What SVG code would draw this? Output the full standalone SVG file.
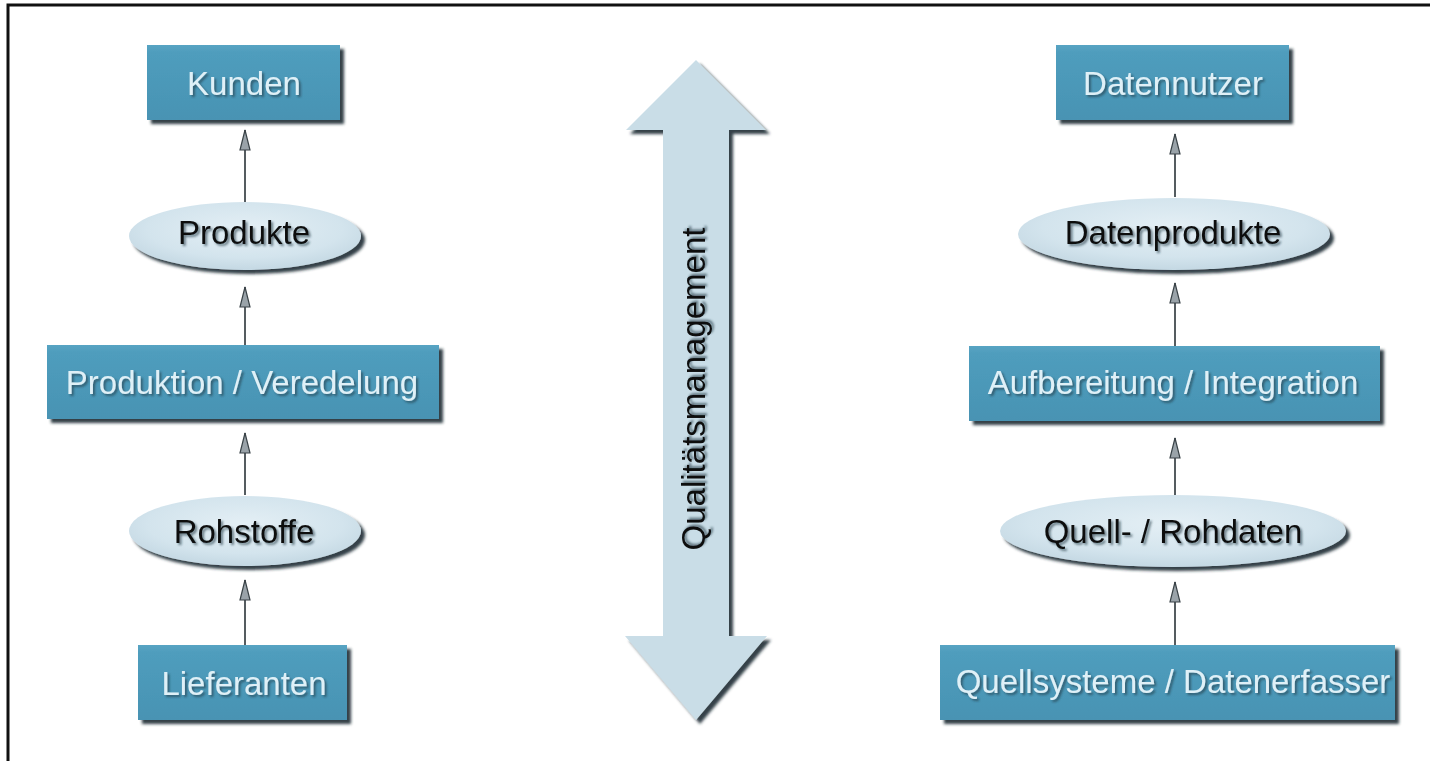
<svg xmlns="http://www.w3.org/2000/svg" width="1430" height="761" viewBox="0 0 1430 761">
<defs>
<filter id="sh" x="-10%" y="-20%" width="130%" height="150%">
<feGaussianBlur in="SourceAlpha" stdDeviation="1.6"/>
<feOffset dx="4" dy="4" result="b"/>
<feFlood flood-color="#1c2b33" flood-opacity="0.9"/>
<feComposite in2="b" operator="in" result="s"/>
<feMerge><feMergeNode in="s"/><feMergeNode in="SourceGraphic"/></feMerge>
</filter>
<filter id="tsh" x="-10%" y="-30%" width="120%" height="160%">
<feGaussianBlur in="SourceAlpha" stdDeviation="1.2"/>
<feOffset dx="1.5" dy="2" result="b"/>
<feFlood flood-color="#1f3540" flood-opacity="0.6"/>
<feComposite in2="b" operator="in" result="s"/>
<feMerge><feMergeNode in="s"/><feMergeNode in="SourceGraphic"/></feMerge>
</filter>
<linearGradient id="boxg" x1="0" y1="0" x2="0" y2="1">
<stop offset="0" stop-color="#58a4c3"/>
<stop offset="0.1" stop-color="#4f9dbd"/>
<stop offset="1" stop-color="#4893b3"/>
</linearGradient>
<radialGradient id="ellg" cx="0.5" cy="0.4" r="0.6">
<stop offset="0" stop-color="#e4eff5"/>
<stop offset="0.7" stop-color="#d3e4ed"/>
<stop offset="1" stop-color="#c4d8e3"/>
</radialGradient>
<marker id="ah" viewBox="0 0 22 12" refX="21" refY="6" markerWidth="22" markerHeight="12" markerUnits="userSpaceOnUse" orient="auto-start-reverse">
<path d="M21 6 L1 11 L1 1 Z" fill="#9aa3a9" stroke="#3a4348" stroke-width="1.2"/>
</marker>
<style>
.box{fill:url(#boxg);filter:url(#sh)}
.ell{fill:url(#ellg);filter:url(#sh)}
.bt{font-family:"Liberation Sans",Arial,sans-serif;font-size:33px;fill:#dff0f7;text-anchor:middle;filter:url(#tsh)}
.et{font-family:"Liberation Sans",Arial,sans-serif;font-size:33px;fill:#111;text-anchor:middle;filter:url(#tsh)}
.con{stroke:#555c60;stroke-width:2;fill:none;marker-start:url(#ah)}
</style>
</defs>
<rect x="0" y="0" width="1430" height="761" fill="#fff"/>
<g id="frame" stroke="#111" stroke-width="3" fill="none">
<path d="M8 761 V5 H1430"/>
</g>

<g id="connectors">
<line class="con" x1="245" y1="130" x2="245" y2="202"/>
<line class="con" x1="245" y1="287" x2="245" y2="345"/>
<line class="con" x1="245" y1="433" x2="245" y2="495"/>
<line class="con" x1="245" y1="580" x2="245" y2="645"/>
<line class="con" x1="1175" y1="134" x2="1175" y2="197"/>
<line class="con" x1="1175" y1="283" x2="1175" y2="346"/>
<line class="con" x1="1175" y1="438" x2="1175" y2="495"/>
<line class="con" x1="1175" y1="582" x2="1175" y2="645"/>
</g>

<g id="kunden"><rect class="box" x="147" y="45" width="193" height="75"/><text class="bt" x="244" y="95">Kunden</text></g>
<g id="produkte"><ellipse class="ell" cx="245" cy="236" rx="116" ry="34"/><text class="et" x="244" y="244">Produkte</text></g>
<g id="produktion"><rect class="box" x="47" y="345" width="392" height="74"/><text class="bt" x="242" y="394">Produktion / Veredelung</text></g>
<g id="rohstoffe"><ellipse class="ell" cx="245" cy="531" rx="116" ry="35"/><text class="et" x="244" y="543">Rohstoffe</text></g>
<g id="lieferanten"><rect class="box" x="138" y="645" width="209" height="75"/><text class="bt" x="244" y="695">Lieferanten</text></g>

<g id="datennutzer"><rect class="box" x="1056" y="45" width="233" height="75"/><text class="bt" x="1173" y="95">Datennutzer</text></g>
<g id="datenprodukte"><ellipse class="ell" cx="1174" cy="234" rx="156" ry="36"/><text class="et" x="1173" y="244">Datenprodukte</text></g>
<g id="aufbereitung"><rect class="box" x="969" y="346" width="411" height="75"/><text class="bt" x="1173" y="394">Aufbereitung / Integration</text></g>
<g id="quellrohdaten"><ellipse class="ell" cx="1173" cy="531" rx="173" ry="36"/><text class="et" x="1173" y="543">Quell- / Rohdaten</text></g>
<g id="quellsysteme"><rect class="box" x="940" y="645" width="455" height="75"/><text class="bt" x="1173" y="693">Quellsysteme / Datenerfasser</text></g>

<g id="qualitaetsmanagement">
<polygon points="696,60 766,130 729,130 729,636 767,636 696,720 625,636 663,636 663,130 626,130" fill="#c9dde7" filter="url(#sh)"/>
<text class="et" transform="translate(705,389) rotate(-90)" x="0" y="0">Qualitätsmanagement</text>
</g>
</svg>
